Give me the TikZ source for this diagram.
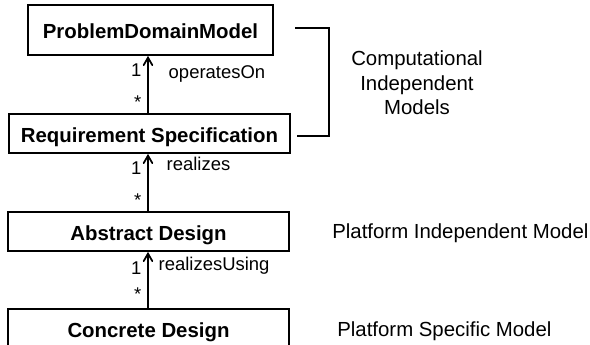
\documentclass[tikz,border=0pt]{standalone}
\usepackage{fontspec}
\setmainfont{Liberation Sans}
\usepackage{tikz}
\usetikzlibrary{arrows, positioning, calc}

\begin{document}
\begin{tikzpicture}[>=angle 60,
    model/.style={rectangle,draw,line width=1pt,minimum width=5.62cm,minimum height=0.78cm,text height=0.38cm,text depth=0.04cm,font=\fontsize{11.6}{13.9}\selectfont\bfseries},
    assoc/.style={->,line width=1pt},
    lbl/.style={font=\fontsize{10.5}{12.6}\selectfont},
    side/.style={font=\fontsize{11.6}{13.9}\selectfont}]
    \useasboundingbox (0,0) rectangle (11.8,-6.9);

    % Models
    \node[model,minimum width=4.9cm,minimum height=1.0cm] (pdm) at (3.01,-0.6) {ProblemDomainModel};
    \node[model] (req) at (2.99,-2.67) {Requirement Specification};
    \node[model] (abs) at (2.97,-4.63) {Abstract Design};
    \node[model] (conc) at (2.97,-6.57) {Concrete Design};

    % Associations
    \draw[assoc] ([xshift=-0.03cm]req.north) -- ([xshift=-0.03cm]req.north |- pdm.south)
        node[lbl,pos=0.75,left] (one1) {1}
        node[lbl,pos=0.2,left] (many1) {*}
        node[lbl,pos=0.69,right,xshift=0.28cm] (ops) {operatesOn};
    \draw[assoc] ([xshift=-0.01cm]abs.north) -- ([xshift=-0.01cm]abs.north |- req.south)
        node[lbl,pos=0.75,left] (one2) {1}
        node[lbl,pos=0.2,left] (many2) {*}
        node[lbl,pos=0.83,right,xshift=0.24cm] (real) {realizes};
    \draw[assoc] ([xshift=-0.01cm]conc.north) -- ([xshift=-0.01cm]conc.north |- abs.south)
        node[lbl,pos=0.71,left] (one3) {1}
        node[lbl,pos=0.25,left] (many3) {*}
        node[lbl,pos=0.76,right,xshift=0.08cm] (realu) {realizesUsing};

    % Bracket
    \coordinate (bt) at (5.9,-0.56);
    \coordinate (bb) at (5.94,-2.72);
    \draw[line width=1pt] (bt) -- (6.58,-0.56) -- (6.58,-2.72) -- (bb);

    % Levels
    \node[side,align=center] (cim) at (8.34,-1.66) {Computational\\Independent\\Models};
    \node[side,anchor=west,inner sep=0] (pim) at (6.64,-4.66) {Platform Independent Model};
    \node[side,anchor=west,inner sep=0] (psm) at (6.74,-6.62) {Platform Specific Model};
\end{tikzpicture}
\end{document}
